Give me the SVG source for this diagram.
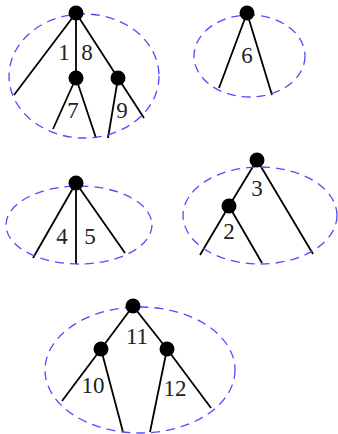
<svg xmlns="http://www.w3.org/2000/svg" width="338" height="434" viewBox="0 0 338 434">
<style>
.e{fill:none;stroke:#4d4dff;stroke-width:1.3;stroke-dasharray:9 6}
.l{stroke:#000;stroke-width:1.8;fill:none}
.n{fill:#000}
.t{font-family:"Liberation Serif","DejaVu Serif",serif;font-size:23px;fill:#222;text-anchor:middle}
</style>
<rect width="338" height="434" fill="#fff"/>
<g id="connectors">
<path class="l" d="M76,13L14,95M76,13V78M76,13L118,78M76,78L53,129M76,78L96,138M118,78L108,138M118,78L144,118"/>
<path class="l" d="M247,13L219,88M247,13L272,95"/>
<path class="l" d="M76,183L33,258M76,183V264M76,183L125,253"/>
<path class="l" d="M257,160L229,206M257,160L313,254M229,206L200,255M229,206L262,263"/>
<path class="l" d="M133,306L101,349M133,306L167,349M101,349L62,401M101,349L123,432M167,349L150,432M167,349L211,408"/>
</g>
<g id="tree1">
<ellipse class="e" cx="84" cy="76" rx="75" ry="62"/>
<circle class="n" cx="76" cy="13" r="7.5"/>
<circle class="n" cx="76" cy="78" r="7.5"/>
<circle class="n" cx="118" cy="78" r="7.5"/>
<text class="t" x="64" y="60">1</text>
<text class="t" x="87" y="60">8</text>
<text class="t" x="73" y="118">7</text>
<text class="t" x="122" y="118">9</text>
</g>
<g id="tree2">
<ellipse class="e" cx="249.5" cy="56" rx="55.5" ry="41"/>
<circle class="n" cx="247" cy="13" r="7.5"/>
<text class="t" x="247" y="63">6</text>
</g>
<g id="tree3">
<ellipse class="e" cx="79" cy="225" rx="73" ry="39"/>
<circle class="n" cx="76" cy="183" r="7.5"/>
<text class="t" x="62" y="244">4</text>
<text class="t" x="90" y="244">5</text>
</g>
<g id="tree4">
<ellipse class="e" cx="260" cy="215.5" rx="77" ry="48.5"/>
<circle class="n" cx="257" cy="160" r="7.5"/>
<circle class="n" cx="229" cy="206" r="7.5"/>
<text class="t" x="257" y="196">3</text>
<text class="t" x="229" y="239">2</text>
</g>
<g id="tree5">
<ellipse class="e" cx="140" cy="370" rx="95" ry="63"/>
<circle class="n" cx="133" cy="306" r="7.5"/>
<circle class="n" cx="101" cy="349" r="7.5"/>
<circle class="n" cx="167" cy="349" r="7.5"/>
<text class="t" x="137" y="344">11</text>
<text class="t" x="93" y="393">10</text>
<text class="t" x="175" y="396">12</text>
</g>
</svg>
